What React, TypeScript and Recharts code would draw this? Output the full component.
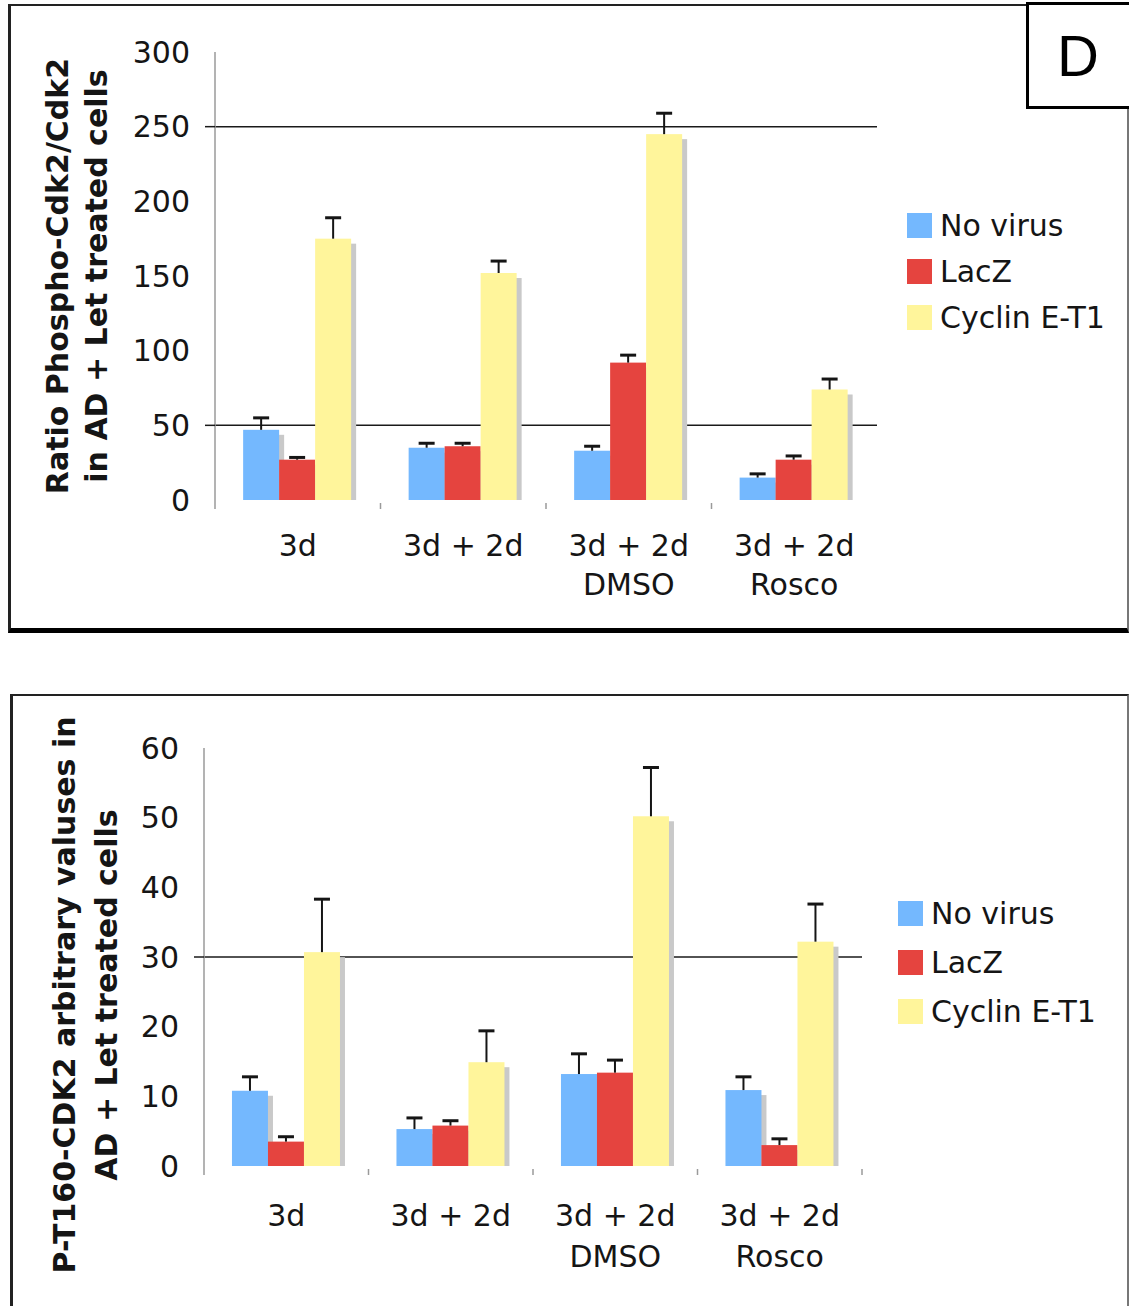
import React from 'react';
import { BarChart, Bar, XAxis, YAxis, CartesianGrid, Legend } from 'recharts';

const categories = ['3d', '3d + 2d', '3d + 2d\nDMSO', '3d + 2d\nRosco'];
const seriesNames = ['No virus', 'LacZ', 'Cyclin E-T1'];
const seriesColors = ['#74b8fe', '#e5443f', '#fff59b'];

// top panel: phospho-Cdk2 / Cdk2 ratio
const ratioNoVirus = [47, 35, 33, 15];
const ratioLacZ = [27, 36, 92, 27];
const ratioCyclin = [175, 152, 245, 74];
const ratioNoVirusErr = [8, 3, 3, 2.5];
const ratioLacZErr = [1.5, 2, 5, 2.5];
const ratioCyclinErr = [14, 8, 14, 7];
const ratioTicks = [0, 50, 100, 150, 200, 250, 300];
const ratioGrid = [50, 250];

// bottom panel: P-T160-CDK2
const t160NoVirus = [10.8, 5.3, 13.2, 10.9];
const t160LacZ = [3.5, 5.8, 13.4, 3.0];
const t160Cyclin = [30.7, 14.9, 50.2, 32.2];
const t160NoVirusErr = [2.0, 1.6, 2.9, 1.9];
const t160LacZErr = [0.7, 0.7, 1.8, 0.9];
const t160CyclinErr = [7.6, 4.5, 7.0, 5.4];
const t160Ticks = [0, 10, 20, 30, 40, 50, 60];
const t160Grid = [30];

const FONT = '"DejaVu Sans", Verdana, sans-serif';
const INK = '#151515';
const TICK_GAP = 25;

const buildRows = (vals: number[][], errs: number[][]) =>
  categories.map((name, i) => ({
    name,
    s0: vals[0][i], s1: vals[1][i], s2: vals[2][i],
    e0: errs[0][i], e1: errs[1][i], e2: errs[2][i],
  }));

const ratioRows = buildRows([ratioNoVirus, ratioLacZ, ratioCyclin], [ratioNoVirusErr, ratioLacZErr, ratioCyclinErr]);
const t160Rows = buildRows([t160NoVirus, t160LacZ, t160Cyclin], [t160NoVirusErr, t160LacZErr, t160CyclinErr]);

// bar with a grey drop shadow and an upper error whisker
const shadowBar = (valKey: string, errKey: string) => (p: any) => {
  const { x, y, width, height, fill } = p;
  const v = p.payload[valKey];
  const e = p.payload[errKey];
  const k = v ? height / v : 0;
  const cx = x + width / 2;
  const ey = y - e * k;
  return (
    <g>
      <rect x={x + 5} y={y + 5} width={width} height={Math.max(height - 5, 0)} fill="#c9c9c9" />
      <rect x={x} y={y} width={width} height={height} fill={fill} />
      <line x1={cx} y1={y} x2={cx} y2={ey} stroke={INK} strokeWidth={2} />
      <line x1={cx - 8} y1={ey} x2={cx + 8} y2={ey} stroke={INK} strokeWidth={3} />
    </g>
  );
};

const YTick = (props: any) => {
  const { x, y, payload, grid } = props;
  return (
    <g>
      {grid.includes(payload.value) && (
        <line x1={x + TICK_GAP - 10} x2={x + TICK_GAP} y1={y} y2={y} stroke="#1a1a1a" strokeWidth={1.5} />
      )}
      <text x={x} y={y} textAnchor="end" dominantBaseline="central" fontSize={30} fontFamily={FONT} fill={INK}>
        {payload.value}
      </text>
    </g>
  );
};

const XTick = (props: any) => {
  const { x, y, payload, index, band, dy, lineH, lastTick } = props;
  const lines = String(payload.value).split('\n');
  const isLast = index === categories.length - 1;
  return (
    <g>
      {index === 0 && <line x1={x - band / 2} x2={x - band / 2} y1={y} y2={y + 9} stroke="#9a9a9a" strokeWidth={1.5} />}
      {(!isLast || lastTick) && (
        <line x1={x + band / 2} x2={x + band / 2} y1={y + 3} y2={y + 9} stroke="#9a9a9a" strokeWidth={1.5} />
      )}
      <text textAnchor="middle" fontSize={30} fontFamily={FONT} fill={INK}>
        {lines.map((l, i) => (
          <tspan key={i} x={x} y={y + dy + i * lineH}>{l}</tspan>
        ))}
      </text>
    </g>
  );
};

const AxisTitle = ({ lines, xs, cy }: { lines: string[]; xs: number[]; cy: number }) => (
  <g>
    {lines.map((l, i) => (
      <text key={i} x={xs[i]} y={cy} transform={`rotate(-90, ${xs[i]}, ${cy})`} textAnchor="middle"
        fontSize={30} fontWeight="bold" fontFamily={FONT} fill={INK}>
        {l}
      </text>
    ))}
  </g>
);

const legendContent = (rowH: number) => (props: any) => {
  const items = [...(props.payload || [])].sort(
    (a: any, b: any) => seriesNames.indexOf(a.value) - seriesNames.indexOf(b.value),
  );
  return (
    <div>
      {items.map((e: any) => (
        <div key={e.value} style={{ display: 'flex', alignItems: 'center', height: rowH }}>
          <span style={{ display: 'inline-block', width: 25, height: 25, background: e.color, marginRight: 8 }} />
          <span style={{ fontSize: 30, fontFamily: FONT, color: INK, whiteSpace: 'nowrap' }}>{e.value}</span>
        </div>
      ))}
    </div>
  );
};

type PanelProps = {
  rows: any[];
  width: number;
  height: number;
  margin: { top: number; right: number; bottom: number; left: number };
  domain: [number, number];
  ticks: number[];
  grid: number[];
  title: string[];
  titleXs: number[];
  titleShift: number;
  labelDy: number;
  labelLineH: number;
  lastTick: boolean;
  legendPos: { left: number; top: number };
  legendRow: number;
};

const Panel = (p: PanelProps) => {
  const band = (p.width - p.margin.left - 100 - p.margin.right) / categories.length;
  return (
    <BarChart width={p.width} height={p.height} data={p.rows} margin={p.margin} barCategoryGap="17%" barGap={0}>
      <CartesianGrid vertical={false} horizontalValues={p.grid} stroke="#1a1a1a" strokeWidth={1.5} />
      <XAxis dataKey="name" height={60} axisLine={false} tickLine={false} tickSize={0} tickMargin={0} interval={0}
        tick={(t: any) => <XTick {...t} band={band} dy={p.labelDy} lineH={p.labelLineH} lastTick={p.lastTick} />} />
      <YAxis width={100} domain={p.domain} ticks={p.ticks} interval={0} tickLine={false} tickSize={0} tickMargin={TICK_GAP}
        axisLine={{ stroke: '#9a9a9a', strokeWidth: 1.5 }}
        tick={(t: any) => <YTick {...t} grid={p.grid} />}
        label={{
          content: (lp: any) => {
            const vb = lp.viewBox || { y: 0, height: 0 };
            return <AxisTitle lines={p.title} xs={p.titleXs} cy={vb.y + vb.height / 2 + p.titleShift} />;
          },
        }} />
      <Legend layout="vertical" align="center" verticalAlign="middle"
        wrapperStyle={{ left: p.legendPos.left, top: p.legendPos.top, width: 230 }}
        content={legendContent(p.legendRow)} />
      {seriesNames.map((n, i) => (
        <Bar key={n} name={n} dataKey={`s${i}`} fill={seriesColors[i]} isAnimationActive={false}
          shape={shadowBar(`s${i}`, `e${i}`)} />
      ))}
    </BarChart>
  );
};

export default function App() {
  return (
    <div style={{ position: 'absolute', left: 0, top: 0, width: 1129, height: 1306, background: '#fff', overflow: 'hidden' }}>
      {/* panel frames */}
      <div style={{
        position: 'absolute', left: 8, top: 4, width: 1121, height: 629, boxSizing: 'border-box',
        borderTop: '2px solid #222', borderLeft: '3px solid #222', borderBottom: '5px solid #000', borderRight: '2px solid #777',
      }} />
      <div style={{
        position: 'absolute', left: 10, top: 694, width: 1119, height: 640, boxSizing: 'border-box',
        borderTop: '2px solid #222', borderLeft: '3px solid #222', borderRight: '2px solid #777',
      }} />

      <div style={{ position: 'absolute', left: 0, top: 0 }}>
        <Panel rows={ratioRows} width={1129} height={640}
          margin={{ top: 52, right: 252, bottom: 80, left: 115 }}
          domain={[0, 300]} ticks={ratioTicks} grid={ratioGrid}
          title={['Ratio Phospho-Cdk2/Cdk2', 'in AD + Let treated cells']} titleXs={[68, 107]} titleShift={0}
          labelDy={56} labelLineH={39} lastTick={false}
          legendPos={{ left: 907, top: 202 }} legendRow={46} />
      </div>

      <div style={{ position: 'absolute', left: 0, top: 640 }}>
        <Panel rows={t160Rows} width={1129} height={666}
          margin={{ top: 108, right: 267, bottom: 80, left: 104 }}
          domain={[0, 60]} ticks={t160Ticks} grid={t160Grid}
          title={['P-T160-CDK2 arbitrary valuses in', 'AD + Let treated cells']} titleXs={[75, 117]} titleShift={38}
          labelDy={60} labelLineH={41} lastTick={true}
          legendPos={{ left: 898, top: 248.5 }} legendRow={49} />
      </div>

      {/* panel letter */}
      <div style={{
        position: 'absolute', left: 1026, top: 2, width: 110, height: 107, boxSizing: 'border-box',
        border: '3px solid #000', background: '#fff',
      }}>
        <div style={{
          position: 'absolute', left: 0, top: 0, width: 98, height: 101, lineHeight: '101px', textAlign: 'center',
          fontSize: 58, fontFamily: '"Liberation Sans", Arial, sans-serif', color: '#000',
        }}>D</div>
      </div>
    </div>
  );
}
